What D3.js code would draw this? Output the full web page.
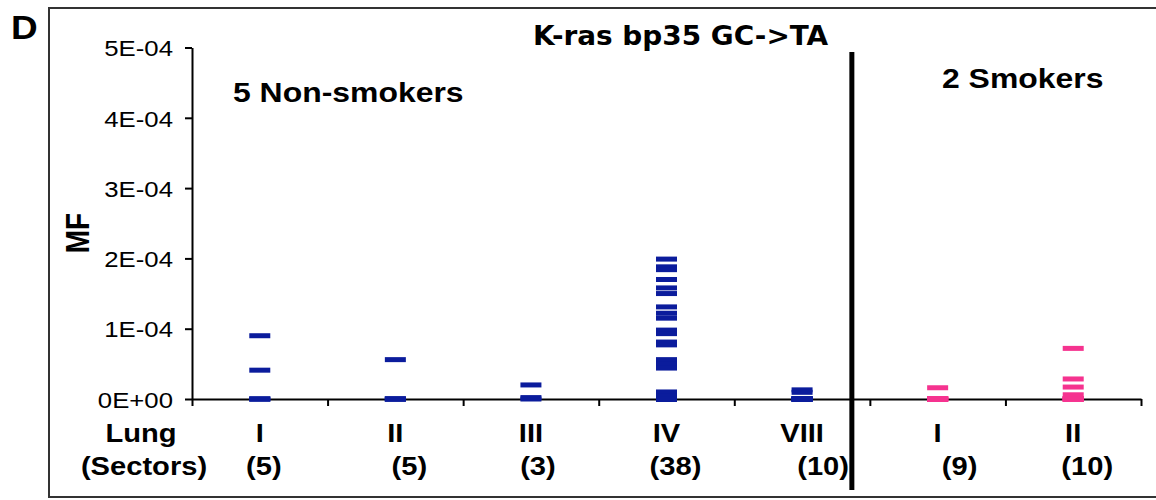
<!DOCTYPE html>
<html>
<head>
<meta charset="utf-8">
<script src="https://cdn.jsdelivr.net/npm/d3@7"></script>
<style>
  body { margin: 0; background: #fff; }
  svg { display: block; }
  text { font-family: "Liberation Sans", Arial, sans-serif; fill: #000; }
</style>
</head>
<body>
<div id="chart"></div>
<script>
// lungs along the x axis, left five are non-smokers, right two smokers
const lungs = ['I', 'II', 'III', 'IV', 'VIII', 'I', 'II'];
const sectors = [5, 5, 3, 38, 10, 9, 10];
const smoker = [false, false, false, false, false, true, true];

// mutant fraction for each sector, read per lung
const mfNonI = [9.0e-5, 4.1e-5, 0, 0, 0];
const mfNonII = [5.6e-5, 0, 0, 0, 0];
const mfNonIII = [2.0e-5, 0.2e-5, 0];
const mfNonIV = [1.99e-4, 1.88e-4, 1.84e-4, 1.70e-4, 1.58e-4, 1.50e-4, 1.31e-4, 1.22e-4,
  1.15e-4, 0.98e-4, 0.93e-4, 0.81e-4, 0.77e-4, 0.56e-4, 0.50e-4, 0.44e-4, 0.10e-4, 0.04e-4,
  0, 0, 0, 0, 0, 0, 0, 0, 0, 0, 0, 0, 0, 0, 0, 0, 0, 0, 0, 0];
const mfNonVIII = [1.3e-5, 0.95e-5, 0, 0, 0, 0, 0, 0, 0, 0];
const mfSmokI = [1.6e-5, 0, 0, 0, 0, 0, 0, 0, 0];
const mfSmokII = [7.2e-5, 2.85e-5, 1.7e-5, 0.6e-5, 0, 0, 0, 0, 0, 0];

const mfByLung = [mfNonI, mfNonII, mfNonIII, mfNonIV, mfNonVIII, mfSmokI, mfSmokII];

const yTicks = [0, 1e-4, 2e-4, 3e-4, 4e-4, 5e-4];
const yTickLabels = ['0E+00', '1E-04', '2E-04', '3E-04', '4E-04', '5E-04'];

const title = 'K-ras bp35 GC->TA';
const groupLabels = ['5 Non-smokers', '2 Smokers'];

// sector counts sit a little right of the numeral, as in the source sheet
const sectorShift = [4, 14, 7, 9, 21, 22, 14];

const width = 1156, height = 500;
const STRETCH = 1.12;
const BLUE = '#0b1c9c';
const PINK = '#f5338f';

const svg = d3.select('#chart').append('svg')
  .attr('width', width)
  .attr('height', height);

function wideText(parent, x, y, txt, size, anchor) {
  return parent.append('text')
    .attr('transform', 'translate(' + x + ',' + y + ') scale(' + STRETCH + ',1)')
    .attr('text-anchor', anchor || 'start')
    .style('font-size', size + 'px')
    .style('font-weight', 'bold')
    .text(txt);
}

// outer frame (no right edge)
svg.append('path')
  .attr('d', 'M' + width + ',8 H49 V497 H' + width)
  .attr('fill', 'none')
  .attr('stroke', '#333')
  .attr('stroke-width', 2);

wideText(svg, 11, 39, 'D', 33);

let x0 = 192, x1 = 1141;
let xLin = d3.scaleLinear().domain([0, lungs.length]).range([x0, x1]);
let xBand = d3.scaleBand().domain(d3.range(lungs.length)).range([x0, x1]).padding(0);
let y = d3.scaleLinear().domain([0, 5e-4]).range([399, 47.5]);

// y axis
let yAxis = svg.append('g')
  .attr('transform', 'translate(' + x0 + ',0)')
  .call(d3.axisLeft(y).tickValues(yTicks).tickSize(7).tickSizeOuter(0)
    .tickFormat((d, i) => yTickLabels[i]));
yAxis.select('.domain').attr('stroke-width', 2);
yAxis.selectAll('.tick line').attr('stroke-width', 2);
yAxis.selectAll('.tick text')
  .attr('x', 0)
  .attr('dy', '0.36em')
  .attr('transform', 'translate(-19,0) scale(' + STRETCH + ',1)')
  .style('font-size', '23px')
  .style('font-family', '"Liberation Sans", Arial, sans-serif');

// x axis with ticks on the lung boundaries
let xAxis = svg.append('g')
  .attr('transform', 'translate(0,' + y(0) + ')')
  .call(d3.axisBottom(xLin).tickValues(d3.range(lungs.length + 1)).tickSize(7)
    .tickSizeOuter(0).tickFormat(''));
xAxis.select('.domain').attr('stroke-width', 2);
xAxis.selectAll('.tick line').attr('stroke-width', 2);

svg.append('text')
  .attr('transform', 'translate(89,233) rotate(-90) scale(1,1.2)')
  .attr('text-anchor', 'middle')
  .style('font-size', '28px')
  .style('font-weight', 'bold')
  .text('MF');

// one short dash per sector
let dashW = 21, dashH = 5;
let points = [];
mfByLung.forEach((vals, i) => {
  vals.forEach(v => points.push({ lung: i, mf: v }));
});

svg.append('g').selectAll('rect')
  .data(points)
  .enter()
  .append('rect')
  .attr('x', d => xBand(d.lung) + xBand.bandwidth() / 2 - dashW / 2)
  .attr('y', d => y(d.mf) - dashH / 2)
  .attr('width', dashW)
  .attr('height', dashH)
  .attr('fill', d => smoker[d.lung] ? PINK : BLUE);

// category labels
let labels = svg.append('g');
wideText(labels, 141, 442, 'Lung', 26, 'middle');
wideText(labels, 144, 475, '(Sectors)', 26, 'middle');
lungs.forEach((name, i) => {
  let cx = xBand(i) + xBand.bandwidth() / 2;
  wideText(labels, cx, 442, name, 26, 'middle');
  wideText(labels, cx + sectorShift[i], 475, '(' + sectors[i] + ')', 26, 'middle');
});

// divider between non-smokers and smokers
svg.append('line')
  .attr('x1', xLin(5) - 18)
  .attr('x2', xLin(5) - 18)
  .attr('y1', 52)
  .attr('y2', 490)
  .attr('stroke', '#000')
  .attr('stroke-width', 5);

wideText(svg, 233, 102, groupLabels[0], 28.5);
wideText(svg, 942, 88, groupLabels[1], 28.5);

svg.append('text')
  .attr('x', 533)
  .attr('y', 45)
  .attr('textLength', 295)
  .attr('lengthAdjust', 'spacingAndGlyphs')
  .style('font-family', '"DejaVu Sans Condensed", "DejaVu Sans", sans-serif')
  .style('font-size', '26px')
  .style('font-weight', 'bold')
  .text(title);
</script>
</body>
</html>
